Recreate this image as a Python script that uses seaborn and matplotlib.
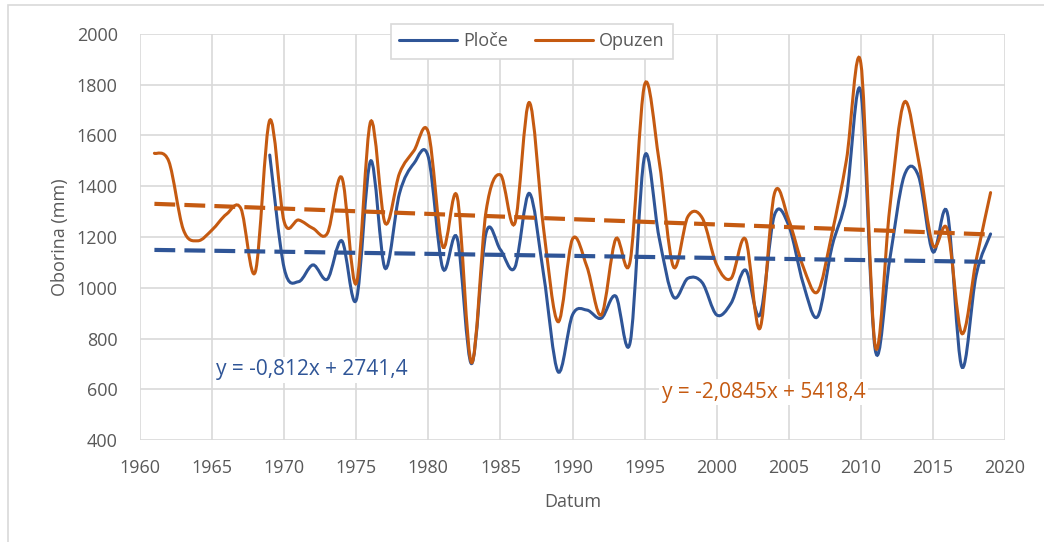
import numpy as np
import pandas as pd
import seaborn as sns
import matplotlib.pyplot as plt
from matplotlib.path import Path
from matplotlib.patches import PathPatch, Rectangle
from matplotlib.lines import Line2D

# yearly precipitation (mm)
years = list(range(1961, 2020))
opuzen = [1530, 1498, 1230, 1185, 1228, 1290, 1312, 1063, 1660, 1260,
          1267, 1234, 1215, 1434, 1017, 1655, 1255, 1451, 1540, 1612,
          1162, 1359, 705, 1300, 1445, 1254, 1730, 1230, 866, 1192,
          1083, 893, 1192, 1105, 1800, 1503, 1083, 1280, 1275, 1090,
          1037, 1191, 840, 1370, 1267, 1083, 984, 1215, 1503, 1885,
          770, 1310, 1730, 1503, 1168, 1230, 820, 1109, 1375]
ploce = [np.nan] * 8 + [
          1523, 1077, 1024, 1090, 1034, 1185, 952, 1500, 1077, 1372,
          1490, 1515, 1077, 1195, 701, 1215, 1150, 1080, 1372, 1050,
          669, 893, 912, 880, 967, 785, 1518, 1200, 964, 1037,
          1020, 893, 939, 1070, 893, 1285, 1245, 1017, 886, 1162,
          1359, 1772, 755, 1109, 1440, 1440, 1142, 1295, 689, 1050, 1212]

# trendline coefficients shown on the chart
ploce_trend = (-0.812, 2741.4)
opuzen_trend = (-2.0845, 5418.4)

blue = "#2F5597"
orange = "#C55A11"
grey = "#595959"

df = pd.DataFrame({"Datum": years, "Ploče": ploce, "Opuzen": opuzen})

sns.set_theme(style="white")
plt.rcParams['font.family'] = ['Open Sans', 'DejaVu Sans']


def smooth_path(x, y):
    # Excel style smoothed line: cubic bezier through every point
    pts = np.column_stack([x, y]).astype(float)
    n = len(pts)
    verts = [pts[0]]
    codes = [Path.MOVETO]
    for i in range(n - 1):
        p0 = pts[i - 1] if i > 0 else pts[i]
        p1, p2 = pts[i], pts[i + 1]
        p3 = pts[i + 2] if i + 2 < n else pts[i + 1]
        verts += [p1 + (p2 - p0) / 6, p2 - (p3 - p1) / 6, p2]
        codes += [Path.CURVE4] * 3
    return Path(verts, codes)


fig = plt.figure(figsize=(10.44, 5.42), dpi=100)
ax = fig.add_axes([140 / 1044, 1 - 440 / 542, 865 / 1044, 406 / 542])

for col, c in [("Ploče", blue), ("Opuzen", orange)]:
    d = df.dropna(subset=[col])
    ax.add_patch(PathPatch(smooth_path(d["Datum"], d[col]), fill=False,
                           edgecolor=c, lw=2.2, capstyle="round", zorder=3))

tx = np.array([years[0], years[-1]])
for (k, b), c in [(ploce_trend, blue), (opuzen_trend, orange)]:
    sns.lineplot(x=tx, y=k * tx + b, color=c, lw=3, ax=ax, zorder=4)
    ax.lines[-1].set_dashes((5, 2.2))

ax.set_xlim(1960, 2020)
ax.set_ylim(400, 2000)
ax.set_xticks(range(1960, 2021, 5))
ax.set_yticks(range(400, 2001, 200))
ax.grid(True, color="#D9D9D9", lw=1.2)
ax.set_axisbelow(True)
for s in ax.spines.values():
    s.set_visible(False)
ax.tick_params(length=0, labelsize=13, labelcolor=grey)
ax.tick_params(axis="y", pad=16)
ax.tick_params(axis="x", pad=14)

ax.set_xlabel("Datum", fontsize=13, color=grey)
ax.set_ylabel("Oborina (mm)", fontsize=13, color=grey)
ax.xaxis.label.set_va("center")
ax.yaxis.label.set_va("center")
ax.xaxis.set_label_coords(0.5, (440 - 502) / 406)
ax.yaxis.set_label_coords((60 - 140) / 865, 0.5)

ax.text(1965.3, 676, "y = -0,812x + 2741,4", color=blue, fontsize=15,
        va="center", ha="left", zorder=5,
        bbox=dict(facecolor="white", edgecolor="none", pad=2))
ax.text(1996.2, 589, "y = -2,0845x + 5418,4", color=orange, fontsize=15,
        va="center", ha="left", zorder=5,
        bbox=dict(facecolor="white", edgecolor="none", pad=2))

handles = [Line2D([], [], color=blue, lw=2.2), Line2D([], [], color=orange, lw=2.2)]
leg = fig.legend(handles, ["Ploče", "Opuzen"], loc="center",
                 bbox_to_anchor=(532 / 1044, 1 - 41.5 / 542), ncol=2,
                 fontsize=13, frameon=True, fancybox=False, framealpha=1,
                 edgecolor="#D9D9D9", handlelength=3.2, handletextpad=0.35,
                 columnspacing=1.5, borderpad=0.45, borderaxespad=0)
leg.get_frame().set_linewidth(1.2)
for t in leg.get_texts():
    t.set_color(grey)

# chart area border
fig.patches.append(Rectangle((8 / 1044, -0.1), 1.2, 1 - 5 / 542 + 0.1,
                             transform=fig.transFigure, fill=False,
                             edgecolor="#D9D9D9", lw=1.2))

fig.savefig("out.png", dpi=100)
